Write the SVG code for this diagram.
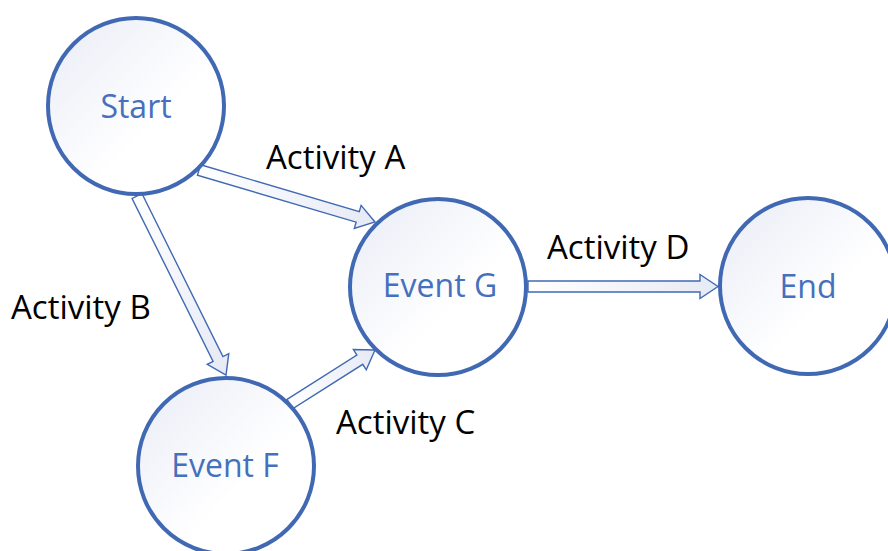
<svg xmlns="http://www.w3.org/2000/svg" width="888" height="551" viewBox="0 0 888 551">
  <defs>
    <linearGradient id="nodeFill" x1="0" y1="0" x2="1" y2="1">
      <stop offset="0" stop-color="#E9ECF6"/>
      <stop offset="0.6" stop-color="#FFFFFF"/>
      <stop offset="1" stop-color="#FFFFFF"/>
    </linearGradient>
    <linearGradient id="arrowFill" x1="0" y1="0" x2="1" y2="0">
      <stop offset="0" stop-color="#FFFFFF"/>
      <stop offset="1" stop-color="#E6EAF5"/>
    </linearGradient>
    <style>
      .node { fill: url(#nodeFill); stroke: #4169B3; stroke-width: 4; }
      .node-label { font-family: "Open Sans", "DejaVu Sans", sans-serif; font-size: 32px; fill: #4570BD; text-anchor: middle; }
      .arrow { fill: url(#arrowFill); stroke: #4169B3; stroke-width: 1.4; stroke-linejoin: miter; }
      .edge-label { font-family: "Open Sans", "DejaVu Sans", sans-serif; font-size: 33px; fill: #000000; }
    </style>
  </defs>

  <rect width="888" height="551" fill="#FFFFFF"/>

  <!-- block arrows, drawn along local x-axis then placed -->
  <g id="connectors">
    <path class="arrow" transform="translate(199,170) rotate(16.46)" d="M0,-5.5 H165.5 V-12 L183.5,0 L165.5,12 V5.5 H0 Z"/>
    <path class="arrow" transform="translate(137,196) rotate(63.57)" d="M0,-5.5 H182 V-12 L200,0 L182,12 V5.5 H0 Z"/>
    <path class="arrow" transform="translate(290,404) rotate(-32.4)" d="M0,-5.5 H82.7 V-12 L100.7,0 L82.7,12 V5.5 H0 Z"/>
    <path class="arrow" transform="translate(528,286.5)" d="M0,-5.5 H172 V-12 L190,0 L172,12 V5.5 H0 Z"/>
  </g>

  <g id="node-start">
    <circle class="node" cx="136" cy="106" r="88"/>
    <text class="node-label" x="136" y="118">Start</text>
  </g>
  <g id="node-event-g">
    <circle class="node" cx="438" cy="287" r="88"/>
    <text class="node-label" x="440" y="297">Event G</text>
  </g>
  <g id="node-end">
    <circle class="node" cx="808" cy="286" r="88"/>
    <text class="node-label" x="808" y="298">End</text>
  </g>
  <g id="node-event-f">
    <circle class="node" cx="226" cy="466" r="88"/>
    <text class="node-label" x="225" y="477">Event F</text>
  </g>

  <g id="labels">
    <text class="edge-label" x="266" y="169">Activity A</text>
    <text class="edge-label" x="11" y="319">Activity B</text>
    <text class="edge-label" x="336" y="434">Activity C</text>
    <text class="edge-label" x="547" y="259">Activity D</text>
  </g>
</svg>
